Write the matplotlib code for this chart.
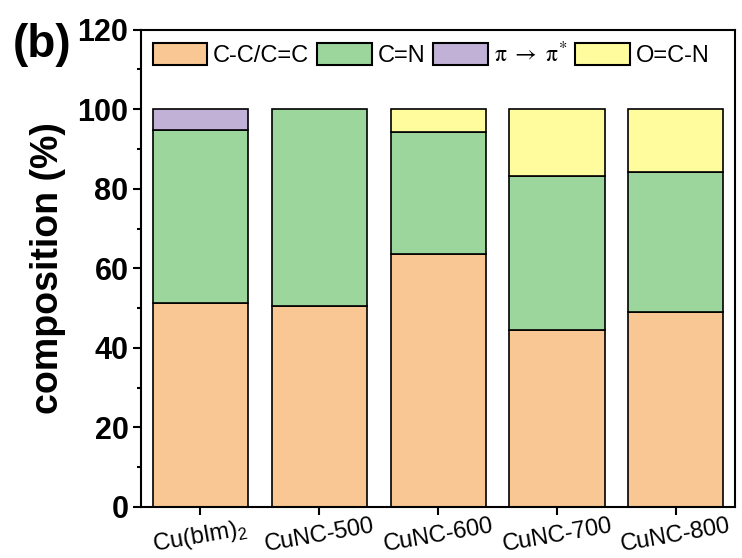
import numpy as np
import matplotlib
matplotlib.use('Agg')
import matplotlib.pyplot as plt
from matplotlib.ticker import MultipleLocator

plt.rcParams['font.family'] = ['Liberation Sans', 'DejaVu Sans']

samples = ['Cu(bIm)$_\\mathregular{2}$', 'CuNC-500', 'CuNC-600', 'CuNC-700', 'CuNC-800']
components = ['C-C/C=C', 'C=N', '$\\mathrm{\\pi}\\ \\rightarrow\\ \\mathrm{\\pi}^{*}$', 'O=C-N']
cc = [51.2, 50.5, 63.5, 44.5, 48.9]
cn = [43.5, 49.5, 30.8, 38.7, 35.3]
pi_pi = [5.3, 0.0, 0.0, 0.0, 0.0]
ocn = [0.0, 0.0, 5.7, 16.8, 15.8]
colors = ['#F9C794', '#9DD69D', '#C1B1D7', '#FFFC9D']

fig = plt.figure(figsize=(7.42, 5.58), dpi=100)
ax = fig.add_axes([0.19, 0.0914, 0.801, 0.8556])

x = np.arange(len(samples))
bottom = np.zeros(len(samples))
for vals, lab, col in zip([cc, cn, pi_pi, ocn], components, colors):
    vals = np.array(vals)
    keep = vals > 0  # skip empty segments so no stray edge lines appear
    ax.bar(x[keep], vals[keep], width=0.8, bottom=bottom[keep], color=col,
           edgecolor='black', linewidth=1.2, label=lab)
    bottom += vals

ax.set_xlim(-0.5, 4.5)
ax.set_ylim(0, 120)
ax.yaxis.set_major_locator(MultipleLocator(20))
ax.yaxis.set_minor_locator(MultipleLocator(10))
ax.set_xticks(x)
ax.set_xticklabels(samples, rotation=10, fontsize=17, ha='center')

for s in ax.spines.values():
    s.set_linewidth(1.5)
ax.tick_params(axis='both', which='major', direction='out', length=6, width=1.5)
ax.tick_params(axis='y', which='minor', direction='out', length=3, width=1.5)
ax.tick_params(axis='y', labelsize=22, pad=3)
ax.tick_params(axis='x', pad=0)
for t in ax.get_yticklabels():
    t.set_fontweight('bold')

ax.set_ylabel('composition (%)', fontsize=27, fontweight='bold', labelpad=8)

leg = ax.legend(loc='upper left', bbox_to_anchor=(0, 1), ncol=4, frameon=False,
                fontsize=17, handlelength=2.3, handleheight=1.1,
                handletextpad=0.25, columnspacing=0.35, borderaxespad=0.2,
                borderpad=0.3)
for h in leg.legend_handles:
    h.set_linewidth(1.5)
leg.get_texts()[2].set_math_fontfamily('stix')

fig.text(0.017, 0.92, '(b)', fontsize=33, fontweight='bold', va='center', ha='left')

fig.savefig('out.png', dpi=100)
